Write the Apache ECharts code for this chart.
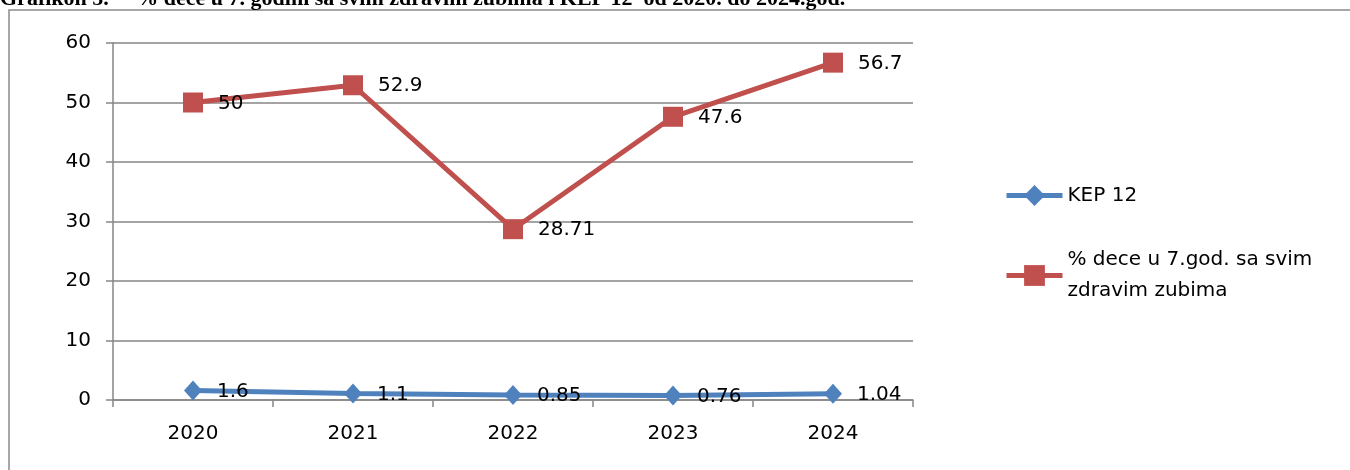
<!DOCTYPE html>
<html>
<head>
<meta charset="utf-8">
<script src="https://cdn.jsdelivr.net/npm/echarts@6/dist/echarts.min.js"></script>
<style>
html,body{margin:0;padding:0;background:#fff;}
#c{width:1350px;height:470px;}
</style>
</head>
<body>
<div id="c"></div>
<script>
var categories = ['2020', '2021', '2022', '2023', '2024'];
var kepName = 'KEP 12';
var kepValues = [1.6, 1.1, 0.85, 0.76, 1.04];
var zubiName = '% dece u 7.god. sa svim zdravim zubima';
var zubiValues = [50, 52.9, 28.71, 47.6, 56.7];
var yTicks = { min: 0, max: 60, interval: 10 };
var titleText = 'Grafikon 5.     % dece u 7. godini sa svim zdravim zubima i KEP 12  od 2020. do 2024.god.';

var chart = echarts.init(document.getElementById('c'), null, { renderer: 'canvas' });
var font = '"DejaVu Sans", "Noto Sans", sans-serif';
var labelStyle = { show: true, position: 'right', distance: 15, offset: [0, 1], color: '#000', fontSize: 20, fontFamily: font };

chart.setOption({
  backgroundColor: '#fff',
  animation: false,
  graphic: [
    { type: 'rect', shape: { x: 9, y: 10, width: 1400, height: 500 }, style: { fill: '#fff', stroke: '#8a8a8a', lineWidth: 1.5 }, z: -10 },
    { type: 'text', left: 0, top: -12, style: { text: titleText, font: 'bold 22px "Liberation Serif", "Times New Roman", serif', fill: '#000' } }
  ],
  grid: { left: 113, right: 437, top: 43, bottom: 70, containLabel: false },
  legend: {
    orient: 'vertical',
    left: 999,
    top: 175,
    itemGap: 18,
    itemWidth: 56,
    itemHeight: 26,
    textStyle: { fontSize: 20, fontFamily: font, color: '#000', width: 275, overflow: 'break', lineHeight: 31 },
    data: [
      { name: kepName, lineStyle: { width: 5 } },
      { name: zubiName, lineStyle: { width: 5 }, textStyle: { padding: [31, 0, 0, 0] } }
    ]
  },
  xAxis: {
    type: 'category',
    data: categories,
    boundaryGap: true,
    axisLine: { lineStyle: { color: '#868686', width: 1.5 } },
    axisTick: { show: true, length: 7, inside: false, lineStyle: { color: '#868686', width: 1.5 } },
    axisLabel: { fontSize: 20, fontFamily: font, color: '#000', margin: 24 }
  },
  yAxis: {
    type: 'value',
    min: yTicks.min, max: yTicks.max, interval: yTicks.interval,
    axisLine: { show: true, lineStyle: { color: '#868686', width: 1.5 } },
    axisTick: { show: true, length: 7, lineStyle: { color: '#868686', width: 1.5 } },
    splitLine: { lineStyle: { color: '#868686', width: 1.5 } },
    axisLabel: { fontSize: 20, fontFamily: font, color: '#000', margin: 22 }
  },
  series: [
    {
      name: kepName, type: 'line', data: kepValues,
      symbol: 'diamond', symbolSize: [18, 20],
      lineStyle: { color: '#4F81BD', width: 5 },
      itemStyle: { color: '#4F81BD' },
      label: labelStyle
    },
    {
      name: zubiName, type: 'line', data: zubiValues,
      symbol: 'rect', symbolSize: 20,
      lineStyle: { color: '#C0504D', width: 5 },
      itemStyle: { color: '#C0504D' },
      label: labelStyle
    }
  ]
});
</script>
</body>
</html>
